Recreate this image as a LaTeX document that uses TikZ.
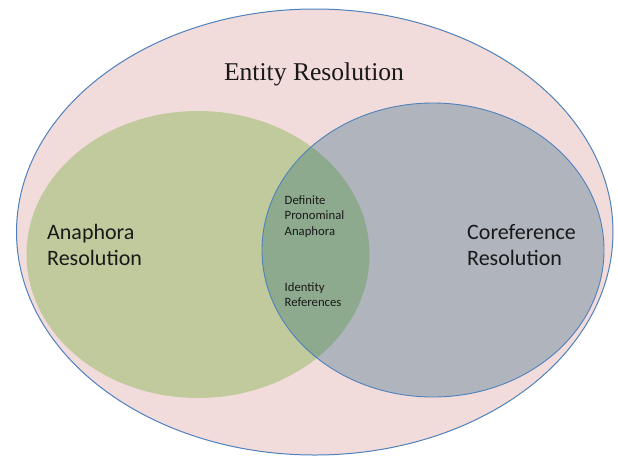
\documentclass[tikz,border=0pt]{standalone}
\usepackage{fontspec}
\setmainfont{Liberation Serif}
\newfontfamily\timesf{Liberation Serif}
\newfontfamily\calib{Carlito}
\definecolor{pinkfill}{HTML}{F2DCDB}
\definecolor{edgeblue}{HTML}{4F81BD}
\definecolor{greenfill}{HTML}{C0CA9C}
\definecolor{grayfill}{HTML}{AFB4BD}
\definecolor{overlapfill}{HTML}{8DAA8F}
\begin{document}
\begin{tikzpicture}[x=1pt,y=-1pt,
  bigtext/.style={font=\calib\fontsize{22}{26.4}\selectfont, align=left, anchor=north west, inner sep=0pt, text=black!90},
  smalltext/.style={font=\calib\fontsize{12.7}{15.3}\selectfont, align=left, anchor=north west, inner sep=0pt, text=black!90}]
\useasboundingbox (0,0) rectangle (618,456);
% outer ellipse
\path[fill=pinkfill, draw=edgeblue, line width=1pt] (314.75,232) ellipse [x radius=298.25, y radius=223];
% left ellipse
\fill[greenfill] (198,254.5) ellipse [x radius=171.5, y radius=143.5];
% right ellipse
\fill[grayfill] (433,250) ellipse [x radius=171, y radius=147];
% overlap
\begin{scope}
  \clip (198,254.5) ellipse [x radius=171.5, y radius=143.5];
  \fill[overlapfill] (433,250) ellipse [x radius=171, y radius=147];
\end{scope}
\draw[edgeblue, line width=0.9pt] (433,250) ellipse [x radius=171, y radius=147];
% texts
\node[font=\timesf\fontsize{25.6}{30}\selectfont, inner sep=0pt, text=black!90] (er) at (314,74) {Entity Resolution};
\node[bigtext] (ar) at (47,224) {Anaphora\\Resolution};
\node[bigtext] (cr) at (467,224) {Coreference\\Resolution};
\node[smalltext] (dpa) at (284.5,195.5) {Definite\\Pronominal\\Anaphora};
\node[smalltext] (ir) at (284.5,282) {Identity\\References};
\end{tikzpicture}
\end{document}
